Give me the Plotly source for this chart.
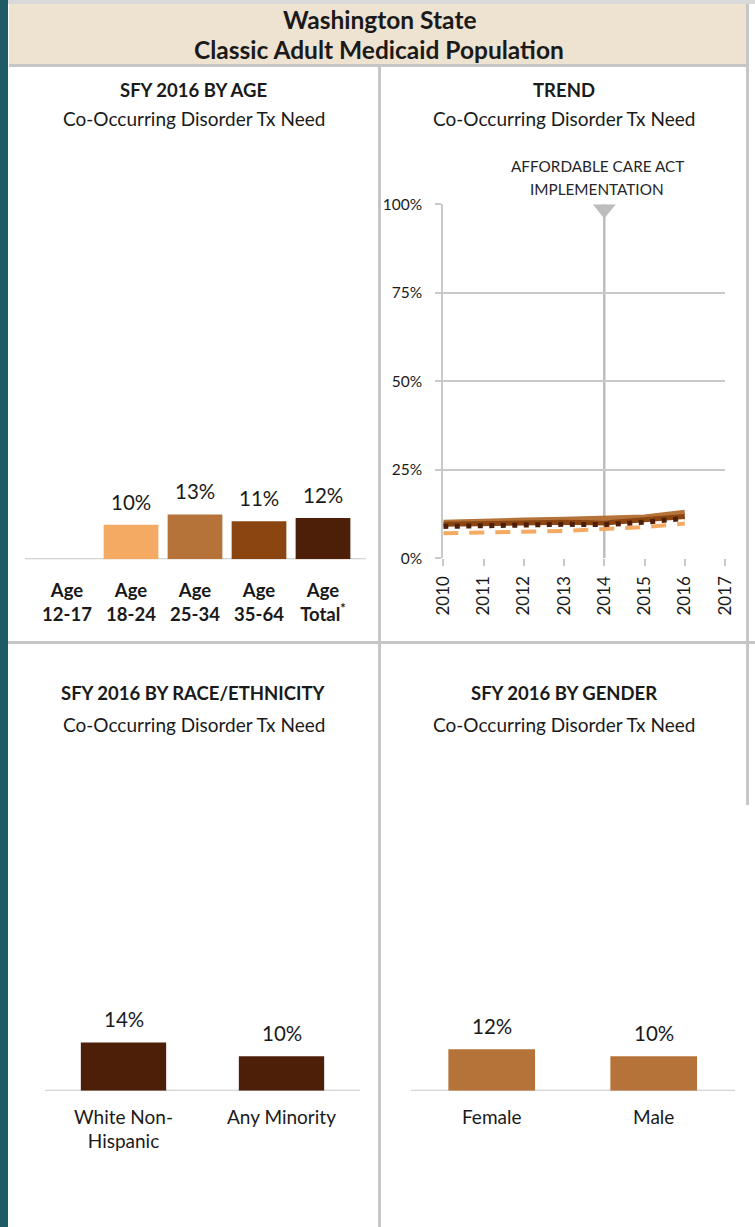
import plotly.graph_objects as go

W, H = 755, 1227
FONT = "Lato"
INK = "#1A1A1A"
GRID = "#C9C9C9"
FRAME = "#C6C6C6"

# ---- data -------------------------------------------------------------
age_groups = ["12-17", "18-24", "25-34", "35-64", "Total"]
age_ticktext = [
    "<b>Age</b><br><b>12-17</b>",
    "<b>Age</b><br><b>18-24</b>",
    "<b>Age</b><br><b>25-34</b>",
    "<b>Age</b><br><b>35-64</b>",
    "<b>Age</b><br><b>Total<sup>*</sup></b>",
]
age_rates = [None, 10, 13, 11, 12]
age_colors = ["#F4AA62", "#F4AA62", "#B5733A", "#8A4511", "#4E1F08"]

years = [2010, 2011, 2012, 2013, 2014, 2015, 2016]
year_ticks = [2010, 2011, 2012, 2013, 2014, 2015, 2016, 2017]
trend_18_24 = [7.1, 7.4, 7.5, 7.7, 8.2, 8.8, 9.8]
trend_25_34 = [10.2, 10.6, 10.8, 11.0, 11.2, 11.7, 13.0]
trend_35_64 = [9.6, 9.9, 10.1, 10.2, 10.0, 10.8, 11.8]
trend_total = [9.0, 9.3, 9.4, 9.6, 9.5, 10.2, 11.3]
aca_year = 2014
pct_ticks = [0, 25, 50, 75, 100]
pct_ticktext = ["0%", "25%", "50%", "75%", "100%"]

race_groups = ["White Non-Hispanic", "Any Minority"]
race_ticktext = ["White Non-<br>Hispanic", "Any Minority"]
race_rates = [14, 10]
race_color = "#4E1F08"

gender_groups = ["Female", "Male"]
gender_rates = [12, 10]
gender_color = "#B5733A"


# ---- pixel helpers ----------------------------------------------------
def xd(a, b):
    return [a / W, b / W]


def yd(top, bottom):
    return [1 - bottom / H, 1 - top / H]


def px(x):
    return x / W


def py(y):
    return 1 - y / H


fig = go.Figure()

# ---- age bars ---------------------------------------------------------
fig.add_trace(go.Bar(
    x=age_groups, y=age_rates, marker=dict(color=age_colors, line_width=0),
    width=0.855, xaxis="x", yaxis="y", hoverinfo="skip", showlegend=False))

# ---- trend lines ------------------------------------------------------
fig.add_trace(go.Scatter(
    x=years, y=trend_18_24, mode="lines", xaxis="x2", yaxis="y2",
    line=dict(color="#F4AA62", width=4, dash="15px,11px"), showlegend=False))
fig.add_trace(go.Scatter(
    x=years, y=trend_25_34, mode="lines", xaxis="x2", yaxis="y2",
    line=dict(color="#B5733A", width=5), showlegend=False))
fig.add_trace(go.Scatter(
    x=years, y=trend_35_64, mode="lines", xaxis="x2", yaxis="y2",
    line=dict(color="#8A4511", width=5), showlegend=False))
fig.add_trace(go.Scatter(
    x=years, y=trend_total, mode="lines", xaxis="x2", yaxis="y2",
    line=dict(color="#4E1F08", width=5, dash="5px,6.5px"), showlegend=False))

# ---- race bars --------------------------------------------------------
fig.add_trace(go.Bar(
    x=race_groups, y=race_rates, marker=dict(color=race_color, line_width=0),
    width=0.54, xaxis="x3", yaxis="y3", hoverinfo="skip", showlegend=False))

# ---- gender bars ------------------------------------------------------
fig.add_trace(go.Bar(
    x=gender_groups, y=gender_rates, marker=dict(color=gender_color, line_width=0),
    width=0.535, xaxis="x4", yaxis="y4", hoverinfo="skip", showlegend=False))

hidden_y = dict(visible=False, range=[0, 100], fixedrange=True, automargin=False)
age_font = dict(family=FONT, size=18.5, color=INK)
cat_font = dict(family=FONT, size=19, color=INK)

fig.update_layout(
    width=W, height=H,
    margin=dict(l=0, r=0, t=0, b=0, pad=0, autoexpand=False),
    paper_bgcolor="white", plot_bgcolor="rgba(0,0,0,0)",
    font=dict(family=FONT, color=INK),
    showlegend=False,
    xaxis=dict(domain=xd(35, 355), type="category", range=[-0.5, 4.5],
               tickvals=age_groups, ticktext=age_ticktext, tickfont=age_font,
               showline=False, showgrid=False, ticks="", ticklabelstandoff=18,
               anchor="y", automargin=False),
    yaxis=dict(domain=yd(214.3, 559.3), anchor="x", **hidden_y),
    xaxis2=dict(domain=xd(443.3, 725), range=[2010, 2017], tickvals=year_ticks,
                tickangle=-90, tickfont=dict(family=FONT, size=17, color=INK),
                ticks="outside", ticklen=7, tickwidth=2, tickcolor=GRID,
                showgrid=False, showline=False, zeroline=False, anchor="y2",
                ticklabelstandoff=3, automargin=False),
    yaxis2=dict(domain=yd(204.3, 558.3), range=[0, 100], tickvals=pct_ticks,
                ticktext=pct_ticktext, tickfont=dict(family=FONT, size=15.5, color=INK),
                ticks="outside", ticklen=6, tickwidth=2, tickcolor=GRID,
                showgrid=True, gridcolor=GRID, gridwidth=2,
                showline=True, linecolor=GRID, linewidth=2,
                zeroline=False, anchor="x2", ticklabelstandoff=10, automargin=False),
    xaxis3=dict(domain=xd(44.5, 360.5), type="category", range=[-0.5, 1.5],
                tickvals=race_groups, ticktext=race_ticktext, tickfont=cat_font,
                showline=False, showgrid=False, ticks="", ticklabelstandoff=13,
                anchor="y3", automargin=False),
    yaxis3=dict(domain=yd(745.7, 1090.7), anchor="x3", **hidden_y),
    xaxis4=dict(domain=xd(410.7, 734.7), type="category", range=[-0.5, 1.5],
                tickvals=gender_groups, tickfont=cat_font,
                showline=False, showgrid=False, ticks="", ticklabelstandoff=13,
                anchor="y4", automargin=False),
    yaxis4=dict(domain=yd(745.7, 1090.7), anchor="x4", **hidden_y),
)

shapes = []


def rect(x0, y0, x1, y1, color, layer="below"):
    shapes.append(dict(type="rect", xref="paper", yref="paper",
                       x0=px(x0), x1=px(x1), y0=py(y1), y1=py(y0),
                       fillcolor=color, line_width=0, layer=layer))


# page frame and header band
rect(0, 0, 755, 4, "#D9D9D9")
rect(9, 4, 746, 65, "#EEE2D1")
rect(9, 64, 749, 67, FRAME)
rect(378, 65, 381, 1227, FRAME)
rect(0, 641, 755, 644, FRAME)
rect(746, 4, 749, 805, FRAME)
rect(0, 0, 8, 1227, "#1F5B66", layer="above")

# bar chart baselines
for ax, x0, x1 in (("y", 25, 366), ("y3", 45, 360), ("y4", 411, 735)):
    shapes.append(dict(type="line", xref="paper", yref=ax, x0=px(x0), x1=px(x1),
                       y0=0, y1=0, line=dict(color=GRID, width=2), layer="below"))

# ACA implementation marker
shapes.append(dict(type="line", xref="x2", yref="y2", x0=aca_year, x1=aca_year,
                   y0=0, y1=100, line=dict(color="#BDBDBD", width=2.5), layer="below"))
shapes.append(dict(type="path", xref="x2", yref="y2",
                   path=f"M {aca_year - 0.29} 100 L {aca_year + 0.29} 100 L {aca_year} 96 Z",
                   fillcolor="#BDBDBD", line_width=0, layer="above"))

fig.update_layout(shapes=shapes)

ann = []


def text(x, y, s, size, bold=False, color=INK):
    ann.append(dict(xref="paper", yref="paper", x=px(x), y=py(y), text=f"<b>{s}</b>" if bold else s,
                    showarrow=False, xanchor="center", yanchor="middle",
                    font=dict(family=FONT, size=size, color=color)))


text(379, 20, "Washington State", 24.5, bold=True)
text(379, 50, "Classic Adult Medicaid Population", 24.5, bold=True)

text(193.5, 90, "SFY 2016 BY AGE", 18.5, bold=True)
text(193.5, 118, "Co-Occurring Disorder Tx Need", 19)
text(564, 90, "TREND", 18.5, bold=True)
text(564, 118, "Co-Occurring Disorder Tx Need", 19)
text(193.5, 693, "SFY 2016 BY RACE/ETHNICITY", 18.5, bold=True)
text(193.5, 724, "Co-Occurring Disorder Tx Need", 19)
text(564, 693, "SFY 2016 BY GENDER", 18.5, bold=True)
text(564, 724, "Co-Occurring Disorder Tx Need", 19)

# ACA caption
ann.append(dict(xref="x2", yref="y2", x=aca_year, y=100, text="AFFORDABLE CARE ACT",
                showarrow=False, xanchor="center", yanchor="middle", xshift=-7, yshift=38,
                font=dict(family=FONT, size=15.3, color="#262626")))
ann.append(dict(xref="x2", yref="y2", x=aca_year, y=100, text="IMPLEMENTATION",
                showarrow=False, xanchor="center", yanchor="middle", xshift=-7, yshift=15,
                font=dict(family=FONT, size=15.3, color="#262626")))

# value labels over bars
for axx, axy, cats, vals in (("x", "y", age_groups, age_rates),
                             ("x3", "y3", race_groups, race_rates),
                             ("x4", "y4", gender_groups, gender_rates)):
    for c, v in zip(cats, vals):
        if v is None:
            continue
        ann.append(dict(xref=axx, yref=axy, x=c, y=v, text=f"{v}%", showarrow=False,
                        xanchor="center", yanchor="bottom", yshift=9,
                        font=dict(family=FONT, size=20.5, color=INK)))

fig.update_layout(annotations=ann)

fig.write_html("out.html")
